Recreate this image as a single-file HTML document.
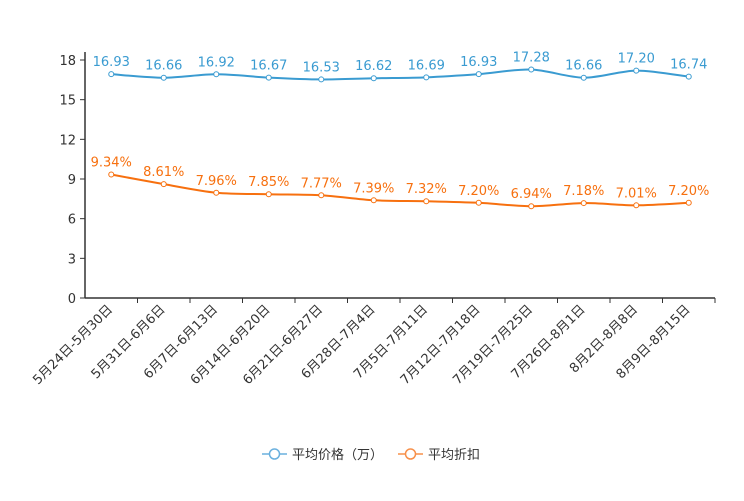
<!DOCTYPE html>
<html><head><meta charset="utf-8"><style>
body{margin:0;background:#fff;}
svg text{font-family:"DejaVu Sans","Noto Sans CJK SC",sans-serif;}
</style></head><body>
<svg id="c" width="744" height="496"></svg>
<script>
const categories=["5月24日-5月30日","5月31日-6月6日","6月7日-6月13日","6月14日-6月20日","6月21日-6月27日","6月28日-7月4日","7月5日-7月11日","7月12日-7月18日","7月19日-7月25日","7月26日-8月1日","8月2日-8月8日","8月9日-8月15日"];
const avgPrice=[16.93,16.66,16.92,16.67,16.53,16.62,16.69,16.93,17.28,16.66,17.20,16.74];
const avgDiscount=[9.34,8.61,7.96,7.85,7.77,7.39,7.32,7.20,6.94,7.18,7.01,7.20];
const yTicks=[0,3,6,9,12,15,18];
const NS="http://www.w3.org/2000/svg";
const svg=document.getElementById('c');
const L=85,R=715,T=60,B=298;
const bw=(R-L)/categories.length;
const x=i=>L+bw*(i+0.5);
const y=v=>B-(v/18)*(B-T);
function mk(t,a,p){const e=document.createElementNS(NS,t);for(const k in a)e.setAttribute(k,a[k]);(p||svg).appendChild(e);return e;}
yTicks.forEach(v=>{
  const tk=mk('line',{x1:L-5,x2:L,y1:y(v),y2:y(v),stroke:'#333'});
  
  
  const t=mk('text',{x:L-9,y:y(v)+5,'text-anchor':'end','font-size':13,fill:'#333'});
  t.textContent=v;
  
  
});
const ya=mk('line',{x1:L,x2:L,y1:T-8,y2:B,stroke:'#333','stroke-width':1.5});


const xa=mk('line',{x1:L,x2:R,y1:B,y2:B,stroke:'#333','stroke-width':1.5});


categories.forEach((c,i)=>{
  const tk=mk('line',{x1:L+bw*(i+1),x2:L+bw*(i+1),y1:B,y2:B+5,stroke:'#333'});
  
  
  const t=mk('text',{x:x(i)+2,y:B+12,'text-anchor':'end','font-size':13,fill:'#333',transform:`rotate(-45 ${x(i)+2} ${B+12})`});
  t.textContent=c;
  
  
});
function path(pts){
  let d=`M${pts[0][0]},${pts[0][1]}`;
  for(let i=0;i<pts.length-1;i++){
    const p0=pts[i-1]||pts[i],p1=pts[i],p2=pts[i+1],p3=pts[i+2]||p2;
    const k=0.15;
    d+=` C${p1[0]+(p2[0]-p0[0])*k},${p1[1]+(p2[1]-p0[1])*k} ${p2[0]-(p3[0]-p1[0])*k},${p2[1]-(p3[1]-p1[1])*k} ${p2[0]},${p2[1]}`;
  }
  return d;
}
function series(vals,color,name,fmt){
  const pts=vals.map((v,i)=>[x(i),y(v)]);
  const p=mk('path',{d:path(pts),fill:'none',stroke:color,'stroke-width':2});
  
  
  vals.forEach((v,i)=>{
    const c=mk('circle',{cx:pts[i][0],cy:pts[i][1],r:2.5,fill:'#fff',stroke:color,'stroke-width':1});
    
    
    const t=mk('text',{x:pts[i][0],y:pts[i][1]-8,'text-anchor':'middle','font-size':13,fill:color});
    t.textContent=fmt(v);
    
    
  });
}
series(avgPrice,'#3a9bd1','avg-price',v=>v.toFixed(2));
series(avgDiscount,'#f7700f','avg-discount',v=>v.toFixed(2)+'%');
function legend(lx,color,label,name){
  const g=mk('g',{});
  
  
  mk('line',{x1:lx,x2:lx+25,y1:454,y2:454,stroke:color,'stroke-width':1.5},g);
  mk('circle',{cx:lx+12.5,cy:454,r:5,fill:'#fff',stroke:color,'stroke-width':1.5},g);
  const t=mk('text',{x:lx+30,y:459,'font-size':13,fill:'#333'},g);t.textContent=label;
}
legend(262,'#6ab0de','平均价格（万）','legend-avg-price');
legend(398,'#f7904a','平均折扣','legend-avg-discount');
</script>
</body></html>
